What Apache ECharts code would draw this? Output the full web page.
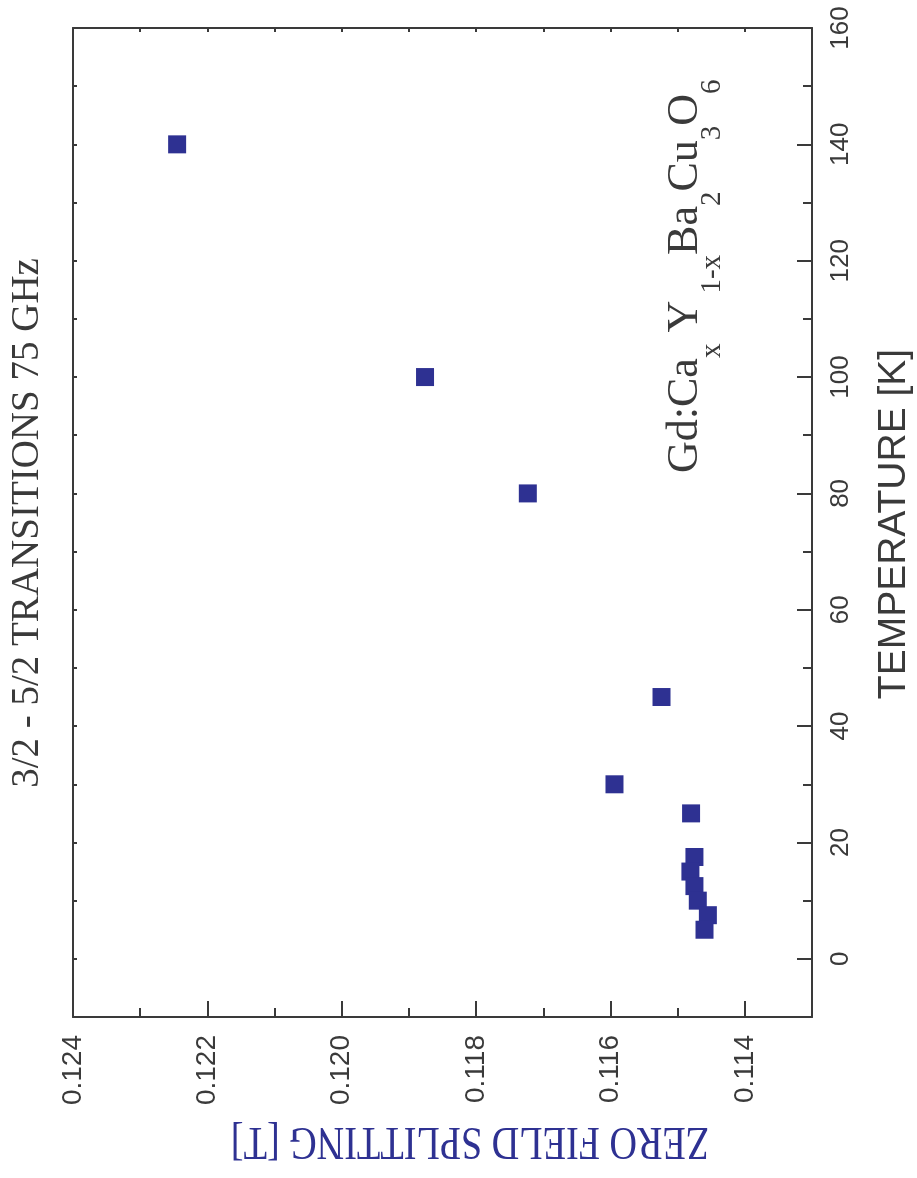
<!DOCTYPE html>
<html>
<head>
<meta charset="utf-8">
<script src="https://cdn.jsdelivr.net/npm/echarts@6/dist/echarts.min.js"></script>
<style>
html,body{margin:0;padding:0;background:#fff;}
#chart{width:917px;height:1178px;}
</style>
</head>
<body>
<div id="chart"></div>
<script>
// Data
const temperature = [140, 100, 80, 45, 30, 25, 17.5, 15, 12.5, 10, 7.5, 5];
const splitting = [0.12245, 0.11876, 0.11723, 0.11524, 0.11594, 0.1148, 0.11475, 0.11481, 0.11475, 0.1147, 0.11455, 0.1146];
const splittingTicks = [0.124, 0.122, 0.120, 0.118, 0.116, 0.114];
const temperatureTicks = [0, 20, 40, 60, 80, 100, 120, 140, 160];

const titleText = '3/2 - 5/2 TRANSITIONS 75 GHz';
const xName = 'ZERO FIELD SPLITTING [T]';
const yName = 'TEMPERATURE [K]';

const AX = '#3a3a3a';
const BLUE = '#2E3192';
const SANS = '"Liberation Sans", Arial, sans-serif';
const SERIF = '"Liberation Serif", "Times New Roman", serif';

const chart = echarts.init(document.getElementById('chart'), null, {renderer: 'canvas'});

const xBase = {
  type: 'value', gridIndex: 0, min: 0.113, max: 0.124, inverse: true, interval: 0.001,
  splitLine: {show: false},
  axisLine: {show: true, onZero: false, lineStyle: {color: AX, width: 2}},
};
const yBase = {
  type: 'value', gridIndex: 0, min: -10, max: 160, interval: 10,
  splitLine: {show: false},
  axisLine: {show: true, onZero: false, lineStyle: {color: AX, width: 2}},
};

const option = {
  animation: false,
  backgroundColor: '#fff',
  grid: {left: 73, right: 105, top: 28, bottom: 161, containLabel: false},
  xAxis: [
    Object.assign({}, xBase, {
      position: 'bottom',
      axisTick: {show: true, inside: true, length: 9, lineStyle: {color: AX, width: 2}},
      axisLabel: {
        show: true, rotate: 90, margin: 18, fontSize: 28, color: AX, fontFamily: SANS,
        customValues: splittingTicks,
        formatter: v => v.toFixed(3)
      }
    }),
    Object.assign({}, xBase, {
      position: 'bottom',
      axisLine: {show: false, onZero: false},
      axisTick: {show: true, inside: true, length: 16, customValues: splittingTicks, lineStyle: {color: AX, width: 2}},
      axisLabel: {show: false}
    }),
    Object.assign({}, xBase, {
      position: 'top',
      axisTick: {show: true, inside: true, length: 4, lineStyle: {color: AX, width: 2}},
      axisLabel: {show: false}
    })
  ],
  yAxis: [
    Object.assign({}, yBase, {
      position: 'right',
      axisTick: {show: true, inside: true, length: 9, lineStyle: {color: AX, width: 2}},
      axisLabel: {
        show: true, rotate: 90, margin: 16, fontSize: 26, color: AX, fontFamily: SANS,
        customValues: temperatureTicks,
        formatter: v => String(v)
      }
    }),
    Object.assign({}, yBase, {
      position: 'right',
      axisLine: {show: false, onZero: false},
      axisTick: {show: true, inside: true, length: 15, customValues: temperatureTicks, lineStyle: {color: AX, width: 2}},
      axisLabel: {show: false}
    }),
    Object.assign({}, yBase, {
      position: 'left',
      axisTick: {show: true, inside: true, length: 4, lineStyle: {color: AX, width: 2}},
      axisLabel: {show: false}
    })
  ],
  series: [{
    type: 'scatter',
    xAxisIndex: 0,
    yAxisIndex: 0,
    symbol: 'rect',
    symbolSize: 18,
    itemStyle: {color: BLUE, opacity: 1},
    data: splitting.map((v, i) => [v, temperature[i]])
  }],
  graphic: [
    {
      type: 'text', x: 28, y: 523, rotation: Math.PI / 2,
      style: {text: titleText, font: '39px ' + SERIF, fill: AX, align: 'center', verticalAlign: 'middle'}
    },
    {
      type: 'text', x: 894, y: 524, rotation: Math.PI / 2,
      style: {text: yName, font: '39px ' + SANS, fill: AX, align: 'center', verticalAlign: 'middle'}
    },
    {
      type: 'text', x: 470, y: 1140, rotation: Math.PI, scaleX: 0.83,
      style: {text: xName, font: '46px ' + SERIF, fill: BLUE, align: 'center', verticalAlign: 'middle'}
    },
    {
      type: 'text', x: 685, y: 473, rotation: Math.PI / 2,
      style: {
        text: '{n|Gd:Ca}{s|x}{n| Y}{s| 1-x}{n|Ba}{s|2}{n|Cu}{s|3}{n|O}{s|6}',
        align: 'left', verticalAlign: 'middle', fill: AX,
        rich: {
          n: {fontSize: 44, fontFamily: SERIF, color: AX},
          s: {fontSize: 29, fontFamily: SERIF, color: AX, padding: [54, 0, 0, 0]}
        }
      }
    }
  ]
};
chart.setOption(option);
</script>
</body>
</html>
